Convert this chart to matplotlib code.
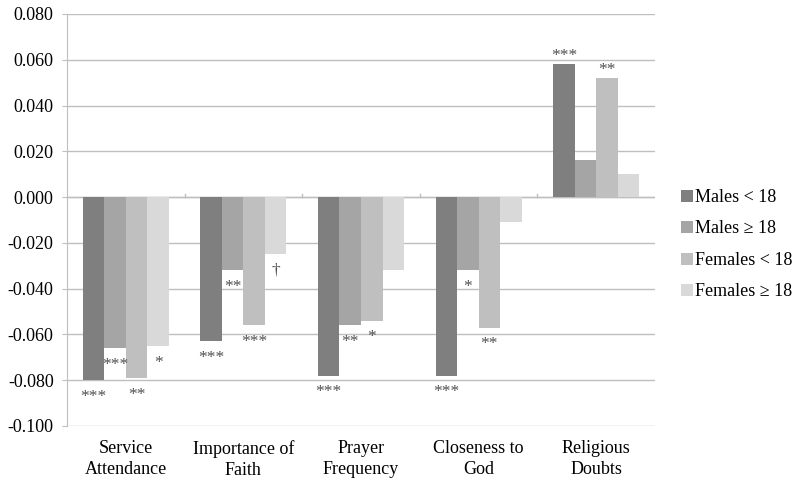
import matplotlib
matplotlib.use("Agg")
import matplotlib.pyplot as plt
import numpy as np

plt.rcParams['font.family'] = ['Liberation Serif', 'DejaVu Serif']

categories = ["Service\nAttendance", "Importance of\nFaith", "Prayer\nFrequency", "Closeness to\nGod", "Religious\nDoubts"]
series_names = ["Males < 18", "Males \u2265 18", "Females < 18", "Females \u2265 18"]
males_lt18 = [-0.080, -0.063, -0.078, -0.078, 0.058]
males_ge18 = [-0.066, -0.032, -0.056, -0.032, 0.016]
females_lt18 = [-0.079, -0.056, -0.054, -0.057, 0.052]
females_ge18 = [-0.065, -0.025, -0.032, -0.011, 0.010]
sig_males_lt18 = ["***", "***", "***", "***", "***"]
sig_males_ge18 = ["***", "**", "**", "*", ""]
sig_females_lt18 = ["**", "***", "*", "**", "**"]
sig_females_ge18 = ["*", "\u2020", "", "", ""]
yticks = [-0.100, -0.080, -0.060, -0.040, -0.020, 0.000, 0.020, 0.040, 0.060, 0.080]
colors = ["#7f7f7f", "#a5a5a5", "#bfbfbf", "#d9d9d9"]

series = [males_lt18, males_ge18, females_lt18, females_ge18]
sigs = [sig_males_lt18, sig_males_ge18, sig_females_lt18, sig_females_ge18]

fig = plt.figure(figsize=(7.95, 4.86), dpi=100)
ax = fig.add_axes([67/795, 1-426/486, (655-67)/795, (426-14)/486])

x = np.arange(len(categories))
w = 0.183
for i, (vals, sg) in enumerate(zip(series, sigs)):
    pos = x + (i - 1.5) * w
    ax.bar(pos, vals, width=w, color=colors[i], label=series_names[i], zorder=3)
    for p, v, s in zip(pos, vals, sg):
        if not s:
            continue
        off = -12 if v < 0 else 6
        ax.annotate(s, (p, v), xytext=(0, off), textcoords='offset points',
                    ha='center', va='center', fontsize=12.5, color='#505050', zorder=4)

ax.set_xlim(-0.5, len(categories) - 0.5)
ax.set_ylim(-0.100, 0.080)
ax.set_yticks(yticks)
ax.set_yticklabels([f"{t:.3f}" for t in yticks], fontsize=13)
ax.yaxis.grid(True, color='#bfbfbf', linewidth=1, zorder=0)
ax.tick_params(axis='y', length=3.6, color='#bfbfbf', pad=6)
for s in ['top', 'right', 'bottom']:
    ax.spines[s].set_visible(False)
ax.spines['left'].set_color('#bfbfbf')

# category axis at zero
ax.axhline(0, color='#bfbfbf', linewidth=1, zorder=2)
for b in np.arange(0.5, len(categories) - 0.5, 1.0):
    ax.plot([b, b], [0, 0.0015], color='#bfbfbf', linewidth=1, zorder=2)

ax.set_xticks(x)
ax.set_xticklabels(categories, fontsize=13, linespacing=1.3)
ax.tick_params(axis='x', length=0, pad=10)

leg = ax.legend(loc='center left', bbox_to_anchor=(1.044, 0.44), frameon=False,
                fontsize=13, handlelength=0.65, handleheight=0.65, handletextpad=0.15,
                labelspacing=0.8, borderpad=0, borderaxespad=0)

fig.savefig("out.png", dpi=100)
